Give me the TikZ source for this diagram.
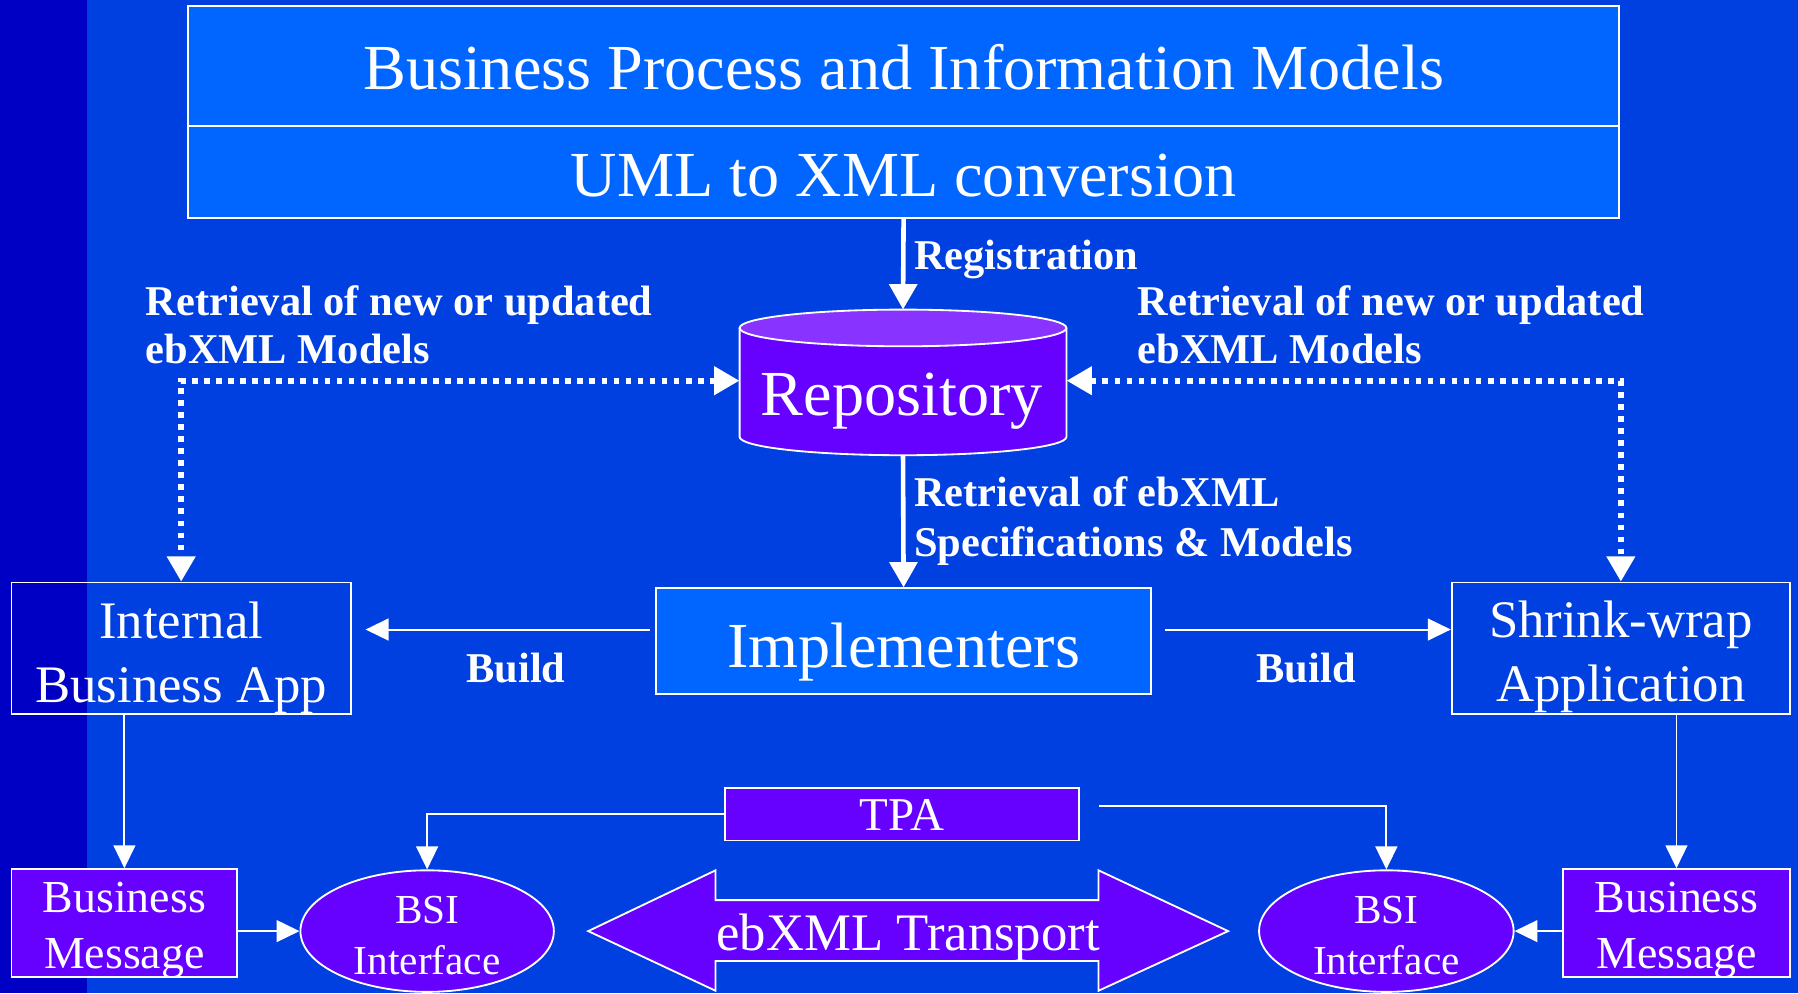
\documentclass[tikz,border=0pt]{standalone}
\usepackage{fontspec}
\setmainfont{Liberation Serif}
\usetikzlibrary{arrows.meta,shapes.geometric}
\definecolor{stripc}{HTML}{0000C4}
\definecolor{bgc}{HTML}{0040E0}
\definecolor{boxc}{HTML}{0066FF}
\definecolor{purp}{HTML}{6600FF}
\definecolor{topface}{HTML}{8833FF}
\tikzset{
  wbox/.style={draw=white, line width=1.6pt, inner sep=0pt},
  thickarr/.style={draw=white, line width=4pt, -{Triangle[length=22pt,width=24pt]}},
  thinarr/.style={draw=white, line width=1.7pt, -{Triangle[length=20pt,width=19pt]}},
  dotarr/.style={draw=white, line width=5pt, dash pattern=on 5pt off 5.5pt,
     {Triangle[length=22pt,width=24pt]}-{Triangle[length=22pt,width=24pt]}},
  blbl/.style={text=white, font=\bfseries\fontsize{37}{42}\selectfont, inner sep=0pt, anchor=base west},
  bigtxt/.style={text=white, font=\fontsize{56}{60}\selectfont, inner sep=0pt, anchor=base},
  midtxt/.style={text=white, font=\fontsize{46}{56}\selectfont, inner sep=0pt, anchor=base, align=center},
  bmtxt/.style={text=white, font=\fontsize{40}{49}\selectfont, inner sep=0pt, anchor=base, align=center},
  bsitxt/.style={text=white, font=\fontsize{36}{45}\selectfont, inner sep=0pt, anchor=base, align=center},
}
\begin{document}
\begin{tikzpicture}[x=1pt,y=-1pt]
\useasboundingbox (0,0) rectangle (1568,866);
\fill[bgc] (0,0) rectangle (1568,866);
\fill[stripc] (0,0) rectangle (76,866);

% top boxes
\node[wbox, fill=boxc, minimum width=1248, minimum height=105] (bpim) at (788,57.5) {};
\node[wbox, fill=boxc, minimum width=1248, minimum height=80] (uml) at (788,150) {};
\node[bigtxt] (bpimt) at (788,78) {Business Process and Information Models};
\node[bigtxt] (umlt) at (788,171) {UML to XML conversion};

% repository cylinder
\node[inner sep=0pt, minimum width=285, minimum height=127] (repo) at (787.5,333.5) {};
\fill[purp, draw=white, line width=1.6pt] (645,286) -- (645,381)
   arc[start angle=180, end angle=0, x radius=142.5, y radius=16] -- (930,286);
\fill[topface, draw=white, line width=1.6pt] (787.5,286) ellipse [x radius=142.5, y radius=16];
\node[bigtxt] (repot) at (786.5,362) {Repository};

% implementers
\node[wbox, fill=boxc, minimum width=432, minimum height=92] (impl) at (788,559) {};
\node[bigtxt] (implt) at (788,582) {Implementers};

% application boxes
\node[wbox, minimum width=296, minimum height=115] (iba) at (158,565.5) {};
\node[midtxt] (ibat) at (158,613) {Internal\\Business App};
\node[wbox, minimum width=295, minimum height=115] (sw) at (1413.5,565.5) {};
\node[midtxt] (swt) at (1413.5,612) {Shrink-wrap\\Application};

% business messages
\node[wbox, fill=purp, minimum width=197, minimum height=94] (bmL) at (108.5,805) {};
\node[bmtxt] (bmLt) at (108.5,845) {Business\\Message};
\node[wbox, fill=purp, minimum width=198, minimum height=94] (bmR) at (1462,805) {};
\node[bmtxt] (bmRt) at (1462,845) {Business\\Message};

% BSI interfaces
\node[wbox, ellipse, fill=purp, minimum width=221, minimum height=106] (bsiL) at (372.5,812) {};
\node[bsitxt] (bsiLt) at (372.5,850) {BSI\\Interface};
\node[wbox, ellipse, fill=purp, minimum width=222, minimum height=106] (bsiR) at (1209,812) {};
\node[bsitxt] (bsiRt) at (1209,850) {BSI\\Interface};

% TPA
\node[wbox, fill=purp, minimum width=309, minimum height=46] (tpa) at (786.5,710) {};
\node[text=white, font=\fontsize{41}{48}\selectfont, inner sep=0pt, anchor=base] (tpat) at (786.5,724.5) {TPA};

% ebXML transport double arrow
\fill[purp, draw=white, line width=1.6pt] (513,812) -- (624,759) -- (624,785) -- (958,785) -- (958,759)
  -- (1071,812) -- (958,864) -- (958,838) -- (624,838) -- (624,864) -- cycle;
\node[text=white, font=\fontsize{46}{52}\selectfont, inner sep=0pt, anchor=base] (transt) at (792,828.5) {ebXML Transport};

% connectors
\draw[thickarr] (uml.south) -- (repo.north);
\draw[thickarr] (repo.south) -- (impl.north);
\draw[dotarr] ([yshift=1.5]repo.west) -| (iba.north);
\draw[dotarr] ([yshift=1.5]repo.east) -| (sw.north);
\draw[thinarr] ([shift={(-4,-10)}]impl.west) -- ([shift={(12,-16.5)}]iba.east);
\draw[thinarr] ([shift={(11,-10)}]impl.east) -- ([shift={(0,-16.5)}]sw.west);
\draw[thinarr] (iba.south -| bmL.north) -- (bmL.north);
\draw[thinarr] (sw.south -| bmR.north) -- (bmR.north);
\draw[thinarr] (bmL.east |- bsiL.west) -- (bsiL.west);
\draw[thinarr] (bmR.west |- bsiR.east) -- (bsiR.east);
\draw[thinarr] (tpa.west) -| (bsiL.north);
\draw[thinarr] ([shift={(17,-7)}]tpa.east) -| (bsiR.north);

% labels
\node[blbl] (lreg) at (797,235) {Registration};
\node[blbl] (lretL1) at (127,275) {Retrieval of new or updated};
\node[blbl] (lretL2) at (127,317) {ebXML Models};
\node[blbl] (lretR1) at (992,275) {Retrieval of new or updated};
\node[blbl] (lretR2) at (992,317) {ebXML Models};
\node[blbl] (lspec1) at (797,442) {Retrieval of ebXML};
\node[blbl] (lspec2) at (797,485) {Specifications \& Models};
\node[blbl, anchor=base] (lbuildL) at (450,595) {Build};
\node[blbl, anchor=base] (lbuildR) at (1139,595) {Build};
\end{tikzpicture}
\end{document}
